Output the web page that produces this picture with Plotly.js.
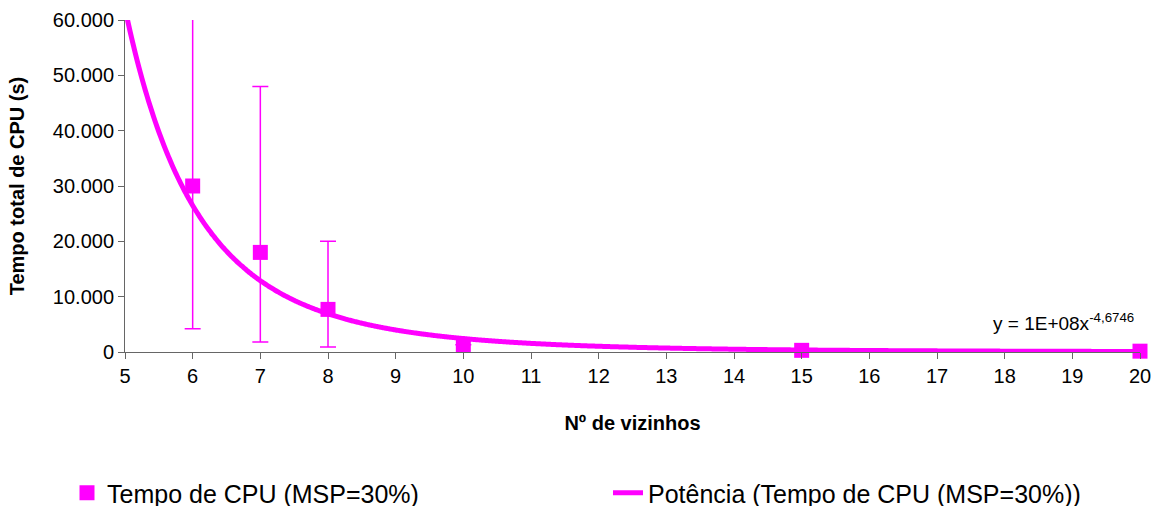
<!DOCTYPE html>
<html><head><meta charset="utf-8">
<script src="https://cdn.plot.ly/plotly-3.0.1.min.js"></script>
<style>html,body{margin:0;padding:0;background:#fff}#c{width:1157px;height:506px}</style>
</head><body><div id="c"></div>
<script>
// Data
const vizinhos = [6, 7, 8, 10, 15, 20];
const tempoCPU = [30000, 18000, 7700, 1300, 300, 150];
const erroMais = [40000, 30000, 12300, null, null, null];
const erroMenos = [25800, 16200, 6800, null, null, null];
// Power trendline as stated on the chart (y = a * x^b)
const trendA = 1.15e8;
const trendB = -4.6746;
const trendX0 = 5, trendX1 = 20;
const xTicks = [5,6,7,8,9,10,11,12,13,14,15,16,17,18,19,20];
const yTicks = [0,10000,20000,30000,40000,50000,60000];

const tx = [], ty = [];
for (let i = 0; i <= 600; i++) {
  const x = trendX0 + (trendX1 - trendX0) * i / 600;
  tx.push(x); ty.push(trendA * Math.pow(x, trendB));
}
const mag = '#FF00FF';
const font = 'Liberation Sans, Arial, sans-serif';
const traces = [
  {x: tx, y: ty, mode: 'lines', name: 'Potência (Tempo de CPU (MSP=30%))',
   line: {color: mag, width: 5, shape: 'spline'}, legend: 'legend2', hoverinfo: 'skip'},
  {x: vizinhos, y: tempoCPU, mode: 'markers', name: 'Tempo de CPU (MSP=30%)',
   marker: {symbol: 'square', size: 15, color: mag}, cliponaxis: false,
   error_y: {type: 'data', symmetric: false, array: erroMais, arrayminus: erroMenos,
     color: mag, thickness: 1.5, width: 8}, legend: 'legend'}
];
const legFont = {size: 25, family: font, color: '#000'};
const layout = {
  width: 1157, height: 506,
  margin: {l: 125, r: 17, t: 20, b: 154},
  paper_bgcolor: '#fff', plot_bgcolor: '#fff',
  separators: ',.',
  font: {family: font, color: '#000', size: 18},
  showlegend: true,
  legend: {orientation: 'h', x: 67/1157, xref: 'container', xanchor: 'left',
    y: 13/506, yref: 'container', yanchor: 'middle', font: legFont, bgcolor: 'rgba(0,0,0,0)'},
  legend2: {orientation: 'h', x: 608/1157, xref: 'container', xanchor: 'left',
    y: 13/506, yref: 'container', yanchor: 'middle', font: legFont, bgcolor: 'rgba(0,0,0,0)'},
  xaxis: {range: [5, 20], tickvals: xTicks, ticktext: xTicks.map(String),
    showgrid: false, zeroline: false, showline: true, linecolor: '#666', linewidth: 1,
    ticks: 'outside', ticklen: 6, tickcolor: '#666', tickfont: {size: 20},
    title: {text: 'Nº de vizinhos', font: {size: 20, family: font, weight: 'bold'}, standoff: 29}},
  yaxis: {range: [0, 60000], tickvals: yTicks, tickformat: ',d',
    showgrid: false, zeroline: false, showline: true, linecolor: '#666', linewidth: 1,
    ticks: 'outside', ticklen: 6, tickcolor: '#666', tickfont: {size: 20},
    title: {text: 'Tempo total de CPU (s)', font: {size: 20, family: font, weight: 'bold'}, standoff: 22}},
  annotations: [{xref: 'paper', yref: 'paper', x: 0.925, y: 0.09, xanchor: 'center', yanchor: 'middle',
    text: 'y = 1E+08x<sup>-4,6746</sup>', showarrow: false, font: {size: 19, family: font}}]
};
Plotly.newPlot('c', traces, layout, {displayModeBar: false, staticPlot: true});
</script></body></html>
